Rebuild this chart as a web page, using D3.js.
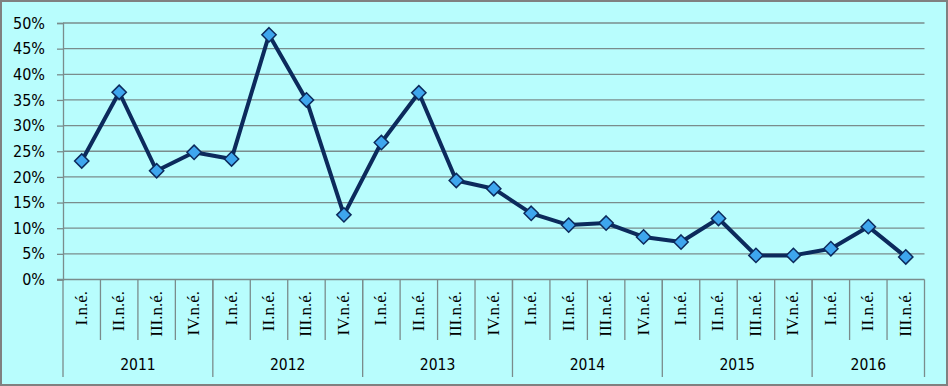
<!DOCTYPE html>
<html>
<head>
<meta charset="utf-8">
<script src="https://cdn.jsdelivr.net/npm/d3@7"></script>
<style>
  body { margin: 0; background: #fff; }
  svg { display: block; }
</style>
</head>
<body>
<div id="chart"></div>
<script>
/* DATA */
const years = ["2011", "2012", "2013", "2014", "2015", "2016"];
const quarterLabels = ["I.n.é.", "II.n.é.", "III.n.é.", "IV.n.é."];
// number of quarters shown per year
const quartersPerYear = [4, 4, 4, 4, 4, 3];
const values = [
  0.231, 0.365, 0.212, 0.248,
  0.235, 0.477, 0.350, 0.126,
  0.267, 0.364, 0.193, 0.177,
  0.129, 0.106, 0.110, 0.083,
  0.073, 0.119, 0.047, 0.047,
  0.060, 0.103, 0.044
];
const yTicks = [0, 0.05, 0.1, 0.15, 0.2, 0.25, 0.3, 0.35, 0.4, 0.45, 0.5];

/* CONSTANTS */
const width = 948, height = 386;
const plot = { left: 63, right: 924.5, top: 23, bottom: 279.5 };
const bg = "#b8fdfd", gridCol = "#7a8c8c", lineCol = "#0c2a5c", markCol = "#3ea6ee";
const sansFont = "'DejaVu Sans Condensed', 'DejaVu Sans', sans-serif";
const serifFont = "'Liberation Serif', 'DejaVu Serif', serif";

// build category list: one entry per quarter
const cats = [];
years.forEach((y, yi) => {
  for (let q = 0; q < quartersPerYear[yi]; q++) {
    cats.push({ year: y, yi: yi, label: quarterLabels[q], i: cats.length });
  }
});

const svg = d3.select("#chart").append("svg")
  .attr("width", width)
  .attr("height", height);

svg.append("rect")
  .attr("x", 1).attr("y", 1)
  .attr("width", width - 2).attr("height", height - 2)
  .attr("fill", bg)
  .attr("stroke", "#808080")
  .attr("stroke-width", 2);

/* SCALES */
const xScale = d3.scaleBand()
  .domain(cats.map(d => d.i))
  .range([plot.left, plot.right])
  .padding(0);

const yScale = d3.scaleLinear()
  .domain([0, 0.5])
  .range([plot.bottom, plot.top]);

/* GRIDLINES */
svg.append("g")
  .selectAll("line")
  .data(yTicks.filter(d => d > 0))
  .join("line")
  .attr("x1", plot.left).attr("x2", plot.right)
  .attr("y1", d => yScale(d)).attr("y2", d => yScale(d))
  .attr("stroke", gridCol)
  .attr("stroke-width", 1.3);

/* Y AXIS */
const yAxis = d3.axisLeft(yScale)
  .tickValues(yTicks)
  .tickFormat(d => Math.round(d * 100) + "%")
  .tickSize(6)
  .tickPadding(12);

const yAxisGroup = svg.append("g")
  .attr("transform", `translate(${plot.left}, 0)`)
  .call(yAxis);
yAxisGroup.select(".domain").attr("stroke", gridCol).attr("stroke-width", 1.3);
yAxisGroup.selectAll(".tick line").attr("stroke", gridCol).attr("stroke-width", 1.3);
yAxisGroup.selectAll(".tick text")
  .attr("font-family", sansFont)
  .attr("font-size", 16)
  .attr("fill", "#000");

/* X AXIS (category boxes) */
const xAxis = svg.append("g");
xAxis.append("line")
  .attr("x1", plot.left - 6).attr("x2", plot.right)
  .attr("y1", plot.bottom).attr("y2", plot.bottom)
  .attr("stroke", gridCol).attr("stroke-width", 1.3);

// quarter separators
xAxis.selectAll("line.qsep")
  .data(cats.slice(1))
  .join("line")
  .attr("class", "qsep")
  .attr("x1", d => xScale(d.i)).attr("x2", d => xScale(d.i))
  .attr("y1", plot.bottom).attr("y2", 340)
  .attr("stroke", gridCol).attr("stroke-width", 1.3);

// year separators
const yearStarts = years.map((y, yi) => cats.find(c => c.yi === yi).i);
const yearBounds = yearStarts.map(i => xScale(i)).concat([plot.right]);
xAxis.selectAll("line.ysep")
  .data(yearBounds)
  .join("line")
  .attr("class", "ysep")
  .attr("x1", d => d).attr("x2", d => d)
  .attr("y1", plot.bottom).attr("y2", 377)
  .attr("stroke", gridCol).attr("stroke-width", 1.3);

// quarter labels
xAxis.selectAll("text.qlab")
  .data(cats)
  .join("text")
  .attr("class", "qlab")
  .attr("transform", d => `translate(${xScale(d.i) + xScale.bandwidth() / 2 + 5}, 291) rotate(-90)`)
  .attr("text-anchor", "end")
  .attr("font-family", serifFont)
  .attr("font-size", 17)
  .attr("fill", "#000")
  .text(d => d.label);

// year labels
xAxis.selectAll("text.ylab")
  .data(years)
  .join("text")
  .attr("class", "ylab")
  .attr("x", (d, i) => (yearBounds[i] + yearBounds[i + 1]) / 2)
  .attr("y", 370)
  .attr("text-anchor", "middle")
  .attr("font-family", sansFont)
  .attr("font-size", 15.5)
  .attr("fill", "#000")
  .text(d => d);

/* LINE */
const lineGen = d3.line()
  .x((d, i) => xScale(i) + xScale.bandwidth() / 2)
  .y(d => yScale(d));

svg.append("path")
  .datum(values)
  .attr("d", lineGen)
  .attr("fill", "none")
  .attr("stroke", lineCol)
  .attr("stroke-width", 4)
  .attr("stroke-linejoin", "round");

/* MARKERS */
svg.selectAll("path.mark")
  .data(values)
  .join("path")
  .attr("class", "mark")
  .attr("d", d3.symbol().type(d3.symbolDiamond2).size(130))
  .attr("transform", (d, i) => `translate(${xScale(i) + xScale.bandwidth() / 2}, ${yScale(d)})`)
  .attr("fill", markCol)
  .attr("stroke", lineCol)
  .attr("stroke-width", 1.5);
</script>
</body>
</html>
